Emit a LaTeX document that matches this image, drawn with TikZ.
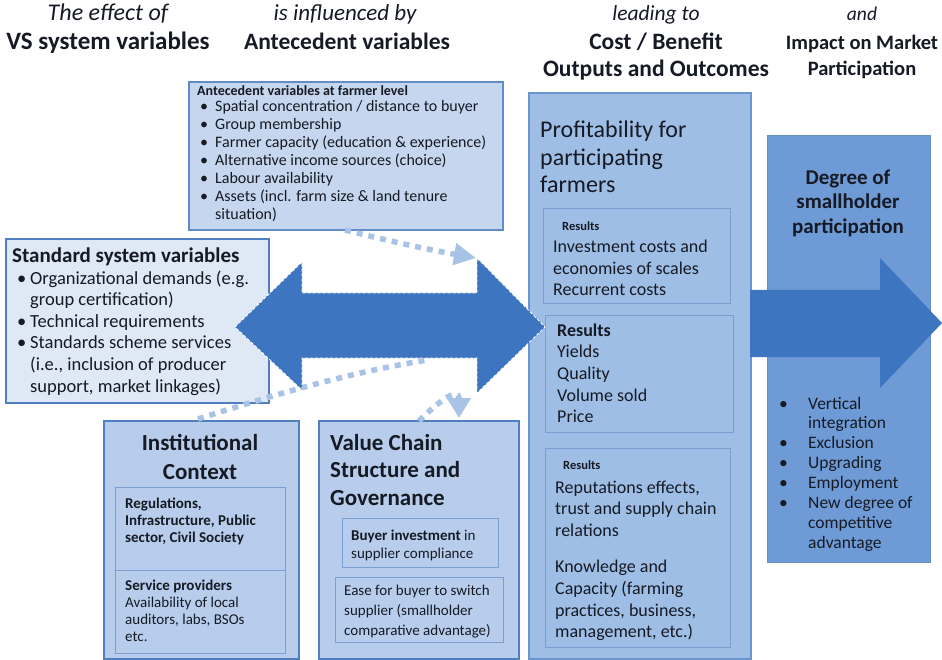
\documentclass[tikz,border=0pt]{standalone}
\usepackage{fontspec}
\setmainfont{Carlito}
\usetikzlibrary{arrows.meta}
\definecolor{arrowblue}{HTML}{3D75C0}
\definecolor{dotblue}{HTML}{A9C3E7}
\definecolor{stdfill}{HTML}{DFE8F5}
\definecolor{antfill}{HTML}{C5D6EE}
\definecolor{ctxfill}{HTML}{B7CDEB}
\definecolor{proffill}{HTML}{9EBEE6}
\definecolor{degfill}{HTML}{6E9BD6}
\definecolor{edgeblue}{HTML}{4F7FC1}
\definecolor{profedge}{HTML}{6C94CE}
\definecolor{inneredge}{HTML}{7C9ED2}
\definecolor{ink}{HTML}{161A24}
\newcommand\fs[2]{\fontsize{#1}{#2}\selectfont}
\newcommand\bl[1][13pt]{\makebox[#1][l]{•}}
\newcommand\ind[1][13pt]{\hspace*{#1}}
\begin{document}
\begin{tikzpicture}[x=1pt,y=-1pt,
  every node/.style={inner sep=0pt,text=ink},
  hd/.style={anchor=base},
  tx/.style={anchor=base west},
  panel/.style={draw=edgeblue,line width=1.8pt,anchor=north west},
  subpanel/.style={draw=inneredge,line width=0.9pt,anchor=north west},
  dotarrow/.style={draw=dotblue,line width=5.5pt,dash pattern=on 6pt off 6pt},
  bigarrow/.style={fill=arrowblue}]
\useasboundingbox[fill=white] (0,0) rectangle (942,660);

% headers
\node[hd,font={\fs{24}{27}\itshape}] (h1a) at (108,21) {The effect of};
\node[hd,font={\fs{25}{28}\bfseries}] (h1b) at (108,50) {VS system variables};
\node[hd,font={\fs{23}{27}\itshape}] (h2a) at (345,21) {is influenced by};
\node[hd,font={\fs{23.5}{27}\bfseries}] (h2b) at (347,50) {Antecedent variables};
\node[hd,font={\fs{21.5}{25}\itshape}] (h3a) at (656,21) {leading to};
\node[hd,font={\fs{23.5}{27}\bfseries}] (h3b) at (656,50) {Cost / Benefit};
\node[hd,font={\fs{23.5}{27}\bfseries}] (h3c) at (656,77) {Outputs and Outcomes};
\node[hd,font={\fs{19.5}{23}\itshape}] (h4a) at (862,21) {and};
\node[hd,font={\fs{20.5}{24}\bfseries}] (h4b) at (862,50) {Impact on Market};
\node[hd,font={\fs{20.5}{24}\bfseries}] (h4c) at (862,76) {Participation};

% panels
\node[panel,fill=stdfill,minimum width=263pt,minimum height=164pt] (std) at (5,238) {};
\node[panel,fill=antfill,draw=edgeblue!90,minimum width=314pt,minimum height=148pt] (ant) at (188,81) {};
\node[panel,fill=ctxfill,minimum width=195pt,minimum height=238pt] (ctx) at (103,420) {};
\node[panel,fill=ctxfill,minimum width=200pt,minimum height=238pt] (vc) at (318,420) {};
\node[panel,fill=proffill,draw=profedge,minimum width=222pt,minimum height=566pt] (prof) at (528,92) {};
\node[panel,fill=degfill,draw=degfill!92!black,line width=0.8pt,minimum width=163pt,minimum height=427pt] (deg) at (767,135) {};

% inner panels
\node[subpanel,minimum width=170pt,minimum height=83pt] (ctxa) at (115,487) {};
\node[subpanel,minimum width=170pt,minimum height=83pt] (ctxb) at (115,570) {};
\node[subpanel,minimum width=156pt,minimum height=49pt] (vca) at (342,518) {};
\node[subpanel,minimum width=168pt,minimum height=65pt] (vcb) at (335,577) {};
\node[subpanel,minimum width=187pt,minimum height=95pt] (pa) at (543,208) {};
\node[subpanel,minimum width=188pt,minimum height=117pt] (pb) at (545,315) {};
\node[subpanel,minimum width=185pt,minimum height=199pt] (pc) at (545,448) {};

% dotted influence arrows
\coordinate (u0) at (345,230);
\coordinate (u1) at (476,258);
\draw[dotarrow,-{Triangle[length=22pt,width=21pt]}] (u0) .. controls (385,240) and (425,249) .. (u1);
\coordinate (l0) at (198,419);
\coordinate (l1) at (428,360);
\draw[dotarrow] (l0) .. controls (270,396) and (350,372) .. (l1);
\coordinate (r0) at (419,421);
\coordinate (r1) at (459,418);
\draw[dotarrow,-{Triangle[length=20pt,width=23pt]}] (r0) .. controls (436,404) and (459,385) .. (r1);

% double arrow between VS variables and outcomes
\path[bigarrow,draw=white,line width=0.8pt,dash pattern=on 3pt off 2pt]
  (235,327) -- (302,262) -- (302,293) -- (477,293) -- (477,258) -- (545,327)
  -- (477,393) -- (477,358) -- (302,358) -- (302,390) -- cycle;
% arrow to market participation
\path[bigarrow] (750,290) -- (880,290) -- (880,258) -- (942,323) -- (880,388)
  -- (880,357) -- (750,357) -- cycle;

% antecedent text
\node[tx,font={\fs{14}{17}\bfseries}] (antt) at (197,96) {Antecedent variables at farmer level};
\node[tx] (antl) at (200,112) {\parbox[t]{400pt}{\fs{16}{18}%
\bl[15pt]Spatial concentration / distance to buyer\\
\bl[15pt]Group membership\\
\bl[15pt]Farmer capacity (education \& experience)\\
\bl[15pt]Alternative income sources (choice)\\
\bl[15pt]Labour availability\\
\bl[15pt]Assets (incl. farm size \& land tenure\\
\ind[15pt]situation)}};

% standard system variables text
\node[tx,font={\fs{21}{24}\bfseries}] (stdt) at (12,263) {Standard system variables};
\node[tx] (stdl) at (17,284) {\parbox[t]{400pt}{\fs{18.5}{21.6}%
\bl Organizational demands (e.g.\\
\ind group certification)\\
\bl Technical requirements\\
\bl Standards scheme services\\
\ind (i.e., inclusion of producer\\
\ind support, market linkages)}};

% institutional context
\node[hd,font={\fs{23}{27}\bfseries}] (ctxt1) at (200,450) {Institutional};
\node[hd,font={\fs{23}{27}\bfseries}] (ctxt2) at (200,479) {Context};
\node[tx] (ctxat) at (125,508) {\parbox[t]{300pt}{\fs{15}{17}\bfseries
Regulations,\\ Infrastructure, Public\\ sector, Civil Society}};
\node[tx] (ctxbt) at (125,590) {\parbox[t]{300pt}{\fs{15}{17}%
\textbf{Service providers}\\ Availability of local\\ auditors, labs, BSOs\\ etc.}};

% value chain
\node[tx] (vct) at (330,450) {\parbox[t]{300pt}{\fs{23}{27.5}\bfseries
Value Chain\\ Structure and\\ Governance}};
\node[tx] (vcat) at (351,540) {\parbox[t]{300pt}{\fs{15}{18}%
\textbf{Buyer investment} in\\ supplier compliance}};
\node[tx] (vcbt) at (344,595) {\parbox[t]{300pt}{\fs{15}{20}%
Ease for buyer to switch\\ supplier (smallholder\\ comparative advantage)}};

% profitability
\node[tx] (proft) at (540,138) {\parbox[t]{300pt}{\fs{24}{27.5}%
Profitability for\\ participating\\ farmers}};
\node[tx,font={\fs{12.5}{15}\bfseries}] (pares) at (562,231) {Results};
\node[tx] (pat) at (553,253) {\parbox[t]{300pt}{\fs{18}{21.5}%
Investment costs and\\ economies of scales\\ Recurrent costs}};
\node[tx] (pbt) at (557,336) {\parbox[t]{300pt}{\fs{18}{21.7}%
\textbf{Results}\\ Yields\\ Quality\\ Volume sold\\ Price}};
\node[tx,font={\fs{12.5}{15}\bfseries}] (pcres) at (563,469) {Results};
\node[tx] (pct) at (555,493) {\parbox[t]{300pt}{\fs{18}{21.6}%
Reputations effects,\\ trust and supply chain\\ relations\\[15pt]
Knowledge and\\ Capacity (farming\\ practices, business,\\ management, etc.)}};

% degree of participation
\node[hd,font={\fs{21}{24.5}\bfseries}] (degt1) at (848,185) {Degree of};
\node[hd,font={\fs{21}{24.5}\bfseries}] (degt2) at (848,209) {smallholder};
\node[hd,font={\fs{21}{24.5}\bfseries}] (degt3) at (848,234) {participation};
\node[tx] (degl) at (779,409) {\parbox[t]{300pt}{\fs{17.5}{19.9}%
\bl[29pt]Vertical\\
\ind[29pt]integration\\
\bl[29pt]Exclusion\\
\bl[29pt]Upgrading\\
\bl[29pt]Employment\\
\bl[29pt]New degree of\\
\ind[29pt]competitive\\
\ind[29pt]advantage}};
\end{tikzpicture}
\end{document}
